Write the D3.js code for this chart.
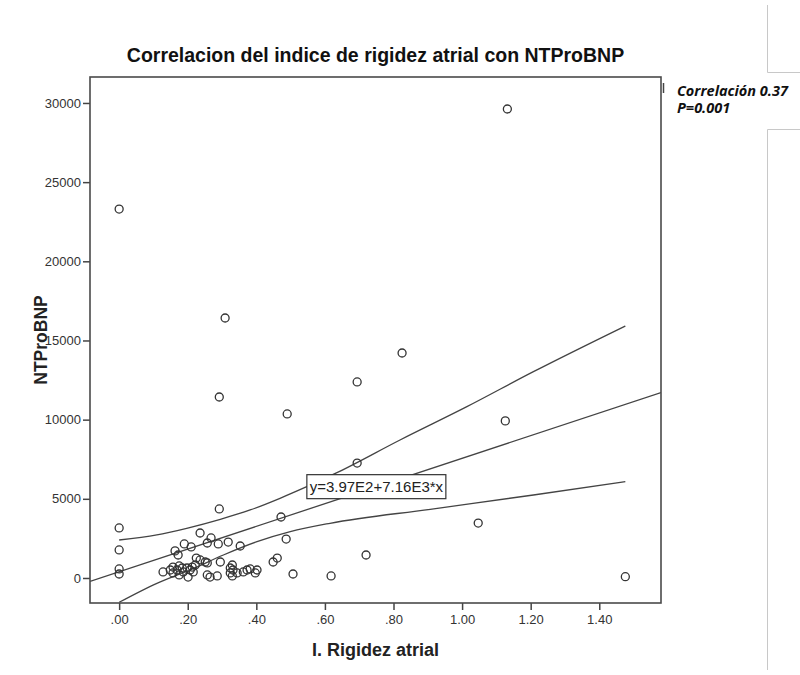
<!DOCTYPE html>
<html lang="es">
<head>
<meta charset="UTF-8">
<title>Correlacion del indice de rigidez atrial con NTProBNP</title>
<script src="https://cdn.jsdelivr.net/npm/d3@7/dist/d3.min.js"></script>
<style>
    body { margin: 0; padding: 0; background: #fff; }
    svg { display: block; }
    .tick text { font: 13px Arial, "Liberation Sans", sans-serif; fill: #333; }
    .tick line { stroke: #444; stroke-width: 1.5; }
</style>
</head>
<body>
<svg width="800" height="675"></svg>
<script>
// I. Rigidez atrial (x) vs NTProBNP (y)
var rigidez = [0, 1.132, 0.309, 0.825, 0.292, 0.694, 0.49, 1.126, 0.694, 0.292,
    0.472, 1.047, 0, 0, 0, 0, 0.72, 0.618, 1.476, 0.507,
    0.487, 0.236, 0.268, 0.257, 0.289, 0.318, 0.353, 0.19, 0.21, 0.163,
    0.172, 0.225, 0.236, 0.251, 0.257, 0.295, 0.33, 0.324, 0.332, 0.128,
    0.149, 0.157, 0.169, 0.175, 0.184, 0.187, 0.198, 0.207, 0.213, 0.216,
    0.157, 0.175, 0.201, 0.257, 0.286, 0.265, 0.324, 0.344, 0.33, 0.362,
    0.373, 0.382, 0.402, 0.397, 0.449, 0.461, 0.222]
var ntprobnp = [23300, 29620, 16420, 14210, 11430, 12380, 10360, 9920, 7260, 4360,
    3850, 3470, 3160, 1770, 570, 250, 1450, 130, 80, 250,
    2460, 2840, 2530, 2210, 2150, 2270, 2020, 2150, 1960, 1710,
    1450, 1260, 1140, 1010, 950, 1010, 820, 630, 505, 380,
    505, 690, 505, 760, 630, 380, 630, 505, 690, 380,
    320, 190, 60, 190, 130, 60, 320, 320, 130, 380,
    505, 570, 505, 320, 1010, 1260, 820]

// fit line (as printed on the chart)
var fitIntercept = 397
var fitSlope = 7160
var fitLabel = 'y=3.97E2+7.16E3*x'
var fitLabelX = 0.75

// confidence band curves
var upperBandX = [0, 0.11, 0.197, 0.295, 0.382, 0.469, 0.547, 0.635, 0.819, 1.014, 1.208, 1.476]
var upperBandY = [2400, 2716, 3139, 3707, 4295, 5034, 5766, 6650, 8716, 10820, 13030, 15916]
var lowerBandX = [0, 0.11, 0.207, 0.304, 0.402, 0.499, 0.615, 0.907, 1.208, 1.476]
var lowerBandY = [-1535, -335, 505, 1453, 2293, 2924, 3455, 4339, 5242, 6082]

var xTicks = [0, 0.2, 0.4, 0.6, 0.8, 1.0, 1.2, 1.4]
var yTicks = [0, 5000, 10000, 15000, 20000, 25000, 30000]

var title = 'Correlacion del indice de rigidez atrial con NTProBNP'
var xTitle = 'I. Rigidez atrial'
var yTitle = 'NTProBNP'
var note = ['Correlación 0.37', 'P=0.001']

var pLeft = 90, pRight = 661, pTop = 77, pBottom = 603
var ink = '#333'

var svg = d3.select('svg')

var x = d3.scaleLinear().domain([-0.085, 1.58]).range([pLeft, pRight])
var y = d3.scaleLinear().domain([-1580, 31640]).range([pBottom, pTop])

// clip for the lines
svg.append('clipPath').attr('id', 'plot')
    .append('rect')
    .attr('x', pLeft).attr('y', pTop)
    .attr('width', pRight - pLeft).attr('height', pBottom - pTop)

var plot = svg.append('g').attr('clip-path', 'url(#plot)')

var line = d3.line().x(d => x(d[0])).y(d => y(d[1]))
var band = d3.line().x(d => x(d[0])).y(d => y(d[1])).curve(d3.curveMonotoneX)

plot.append('path')
    .datum(upperBandX.map((v, i) => [v, upperBandY[i]]))
    .attr('d', band)
    .attr('fill', 'none').attr('stroke', '#444').attr('stroke-width', 1.3)
plot.append('path')
    .datum(lowerBandX.map((v, i) => [v, lowerBandY[i]]))
    .attr('d', band)
    .attr('fill', 'none').attr('stroke', '#444').attr('stroke-width', 1.3)
plot.append('path')
    .datum(x.domain().map(v => [v, fitIntercept + fitSlope * v]))
    .attr('d', line)
    .attr('fill', 'none').attr('stroke', '#444').attr('stroke-width', 1.3)

// points
plot.selectAll('circle')
    .data(rigidez.map((v, i) => [v, ntprobnp[i]]))
    .enter()
    .append('circle')
    .attr('cx', d => x(d[0]))
    .attr('cy', d => y(d[1]))
    .attr('r', 4)
    .attr('fill', 'none')
    .attr('stroke', ink)
    .attr('stroke-width', 1.3)

// fit label box
var lx = x(fitLabelX), ly = y(fitIntercept + fitSlope * fitLabelX)
var lab = svg.append('g')
lab.append('rect')
    .attr('x', lx - 69.5).attr('y', ly - 12)
    .attr('width', 139).attr('height', 24)
    .attr('fill', '#fff').attr('stroke', '#333').attr('stroke-width', 1.2)
lab.append('text')
    .attr('x', lx).attr('y', ly + 5)
    .attr('text-anchor', 'middle')
    .style('font', '15px Arial, "Liberation Sans", sans-serif')
    .attr('fill', '#222')
    .text(fitLabel)

// axes
svg.append('g')
    .attr('transform', 'translate(0,' + pBottom + ')')
    .call(d3.axisBottom(x).tickValues(xTicks).tickSize(7).tickSizeOuter(0).tickPadding(5)
        .tickFormat(d => d3.format('.2f')(d).replace(/^0\./, '.')))
    .call(g => g.select('.domain').remove())

svg.append('g')
    .attr('transform', 'translate(' + pLeft + ',0)')
    .call(d3.axisLeft(y).tickValues(yTicks).tickSize(7).tickSizeOuter(0).tickPadding(2)
        .tickFormat(d3.format('d')))
    .call(g => g.select('.domain').remove())

// frame
svg.append('rect')
    .attr('x', pLeft).attr('y', pTop)
    .attr('width', pRight - pLeft).attr('height', pBottom - pTop)
    .attr('fill', 'none').attr('stroke', '#4a4a4a').attr('stroke-width', 1.6)

// titles
svg.append('text')
    .attr('x', (pLeft + pRight) / 2).attr('y', 62)
    .attr('text-anchor', 'middle')
    .style('font', 'bold 19.5px Arial, "Liberation Sans", sans-serif')
    .attr('fill', '#111')
    .text(title)

svg.append('text')
    .attr('x', (pLeft + pRight) / 2).attr('y', 656)
    .attr('text-anchor', 'middle')
    .style('font', 'bold 18px Arial, "Liberation Sans", sans-serif')
    .attr('fill', '#222')
    .text(xTitle)

svg.append('text')
    .attr('transform', 'translate(47,' + (pTop + pBottom) / 2 + ') rotate(-90)')
    .attr('text-anchor', 'middle')
    .style('font', 'bold 17.5px Arial, "Liberation Sans", sans-serif')
    .attr('fill', '#222')
    .text(yTitle)

// side note and page remnants
svg.append('line')
    .attr('x1', 663.5).attr('x2', 663.5).attr('y1', 83).attr('y2', 93)
    .attr('stroke', '#444').attr('stroke-width', 1.5)

svg.selectAll('.note')
    .data(note)
    .enter()
    .append('text')
    .attr('class', 'note')
    .attr('x', 677)
    .attr('y', (d, i) => 96 + i * 17)
    .style('font', 'italic bold 14.5px "Open Sans", sans-serif')
    .attr('fill', '#111')
    .text(d => d)

svg.append('path')
    .attr('d', 'M767.5,5V72.5H800 M800,129.5H767.5V670')
    .attr('fill', 'none').attr('stroke', '#c8c8c8').attr('stroke-width', 1)
</script>
</body>
</html>
